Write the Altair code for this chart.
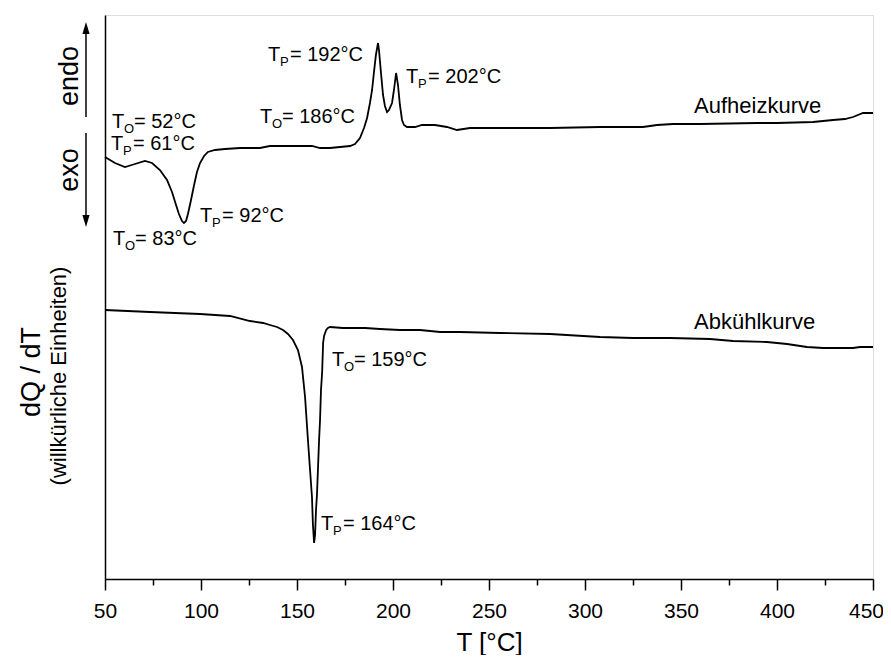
import altair as alt
import pandas as pd

FONT = "Liberation Sans, Arial, Helvetica, sans-serif"

# ---- curve data (T in °C, dQ/dT in arbitrary units) ----
heat_T = [50, 55.2, 60.4, 65.6, 70.8, 74.5, 78.6, 82.3, 84.9, 87.0, 88.5, 90.1, 91.1, 92.2,
          93.2, 94.8, 96.4, 97.9, 99.5, 101.6, 103.6, 107.3, 112.5, 120.3, 130.7, 135.9,
          143.8, 151.6, 157.8, 162.0, 167.2, 172.4, 177.6, 180.2, 182.8, 184.9, 186.5,
          188.0, 189.1, 190.1, 191.1, 192.2, 192.7, 193.7, 194.8, 195.8, 196.9, 197.9,
          199.5, 200.5, 201.6, 202.6, 203.6, 204.7, 205.7, 207.3, 211.5, 215.1, 221.9,
          228.1, 233.3, 240.1, 255.7, 281.8, 307.8, 330.2, 337.5, 345.8, 359.9, 389.6,
          400.0, 418.8, 429.2, 435.4, 439.6, 444.8, 450]
heat_Q = [422, 416, 412, 415, 418, 416, 409, 399, 387, 374, 365, 358, 356, 358,
          365, 379, 394, 407, 416, 423, 427, 429, 430, 431, 431, 433,
          433, 433, 433, 431, 431, 432, 433, 435, 441, 451, 461,
          476, 489, 507, 524, 536, 529, 507, 484, 473, 467, 469,
          476, 489, 506, 494, 474, 459, 454, 452, 452, 454, 454,
          452, 449, 451, 451, 451, 452, 452, 454, 455, 455, 456,
          456, 457, 459, 460, 462, 466, 466]

cool_T = [50, 73.4, 99.5, 115.1, 125.5, 132.3, 135.9, 139.6, 142.7, 145.3, 147.9, 150.5,
          152.6, 154.2, 155.7, 156.8, 157.8, 158.3, 158.9, 159.4, 159.9, 160.4, 161.5,
          162.0, 162.5, 163.1, 163.6, 164.1, 165.2, 166.1, 167.2, 173.9, 185.4, 193.2,
          203.6, 214.1, 224.5, 234.9, 255.7, 281.8, 307.8, 325.0, 344.3, 365.1, 377.1,
          394.8, 405.2, 415.6, 424.0, 439.6, 443.2, 450]
cool_Q = [269, 267, 265, 263, 258, 256, 254, 252, 249, 245, 239, 229,
          212, 182, 139, 109, 82, 54, 36, 44, 69, 84, 139,
          159, 189, 207, 236, 243, 249, 251, 252, 251, 251, 250,
          249, 249, 247, 247, 246, 245, 242, 241, 241, 240, 238,
          237, 235, 232, 231, 231, 232, 232]

# ---- annotations ----
ann_T = [53.6, 53.1, 99.5, 54.2, 134.9, 206.8, 130.7, 168.2, 162.5]
ann_Q = [451, 429, 357, 334, 518, 496, 456, 213, 49]
ann_sub = ["O", "P", "P", "O", "P", "P", "O", "O", "P"]
ann_rest = ["= 52°C", "= 61°C", "= 92°C", "= 83°C", "= 192°C", "= 202°C",
            "= 186°C", "= 159°C", "= 164°C"]

curve_names = ["Aufheizkurve", "Abkühlkurve"]
curve_lab_T = [356.8, 356.8]
curve_lab_Q = [466, 250]

side_words = ["endo", "exo"]
side_T = [35.9, 35.9]
side_Q = [503, 409]

arrow_T = [40.1, 40.1]
arrow_Q1 = [551, 446]
arrow_Q2 = [462, 358]
head_Q = [551, 358]
head_dir = ["up", "down"]

ytitle_lines = ["dQ / dT", "(willkürliche Einheiten)"]
ytitle_T = [16.1, 29.7]
ytitle_Q = [207, 203]
ytitle_size = [27, 22]

x_ticks = list(range(50, 451, 25))

W, H = 768, 564
XD = [50, 450]
YD = [0, 564]

x_axis = alt.Axis(
    values=x_ticks,
    labelExpr="datum.value % 50 === 0 ? datum.label : ''",
    tickSize={"condition": {"test": "datum.value % 50 === 0", "value": 11}, "value": 6},
    labelOffset={"condition": {"test": "datum.value === 450", "value": -7}, "value": 0},
    tickWidth=1.5, tickColor="black", domainColor="black", domainWidth=1.5,
    labelFont=FONT, labelFontSize=21, labelColor="black", labelPadding=10,
    labelOverlap=False, labelFlush=False, labelBound=False, grid=False,
    title="T [°C]", titleFont=FONT, titleFontSize=26, titleFontWeight="normal",
    titleColor="black", titleX=W / 2, titleY=71, titleBaseline="alphabetic",
    titleAlign="center",
)
y_axis = alt.Axis(title=None, labels=False, ticks=False, grid=False,
                  domainColor="black", domainWidth=1.5)


def X(field="T"):
    return alt.X(f"{field}:Q", scale=alt.Scale(domain=XD, nice=False, zero=False), axis=x_axis)


def Y(field="Q"):
    return alt.Y(f"{field}:Q", scale=alt.Scale(domain=YD, nice=False, zero=False), axis=y_axis)


curves = pd.concat([
    pd.DataFrame({"T": heat_T, "Q": heat_Q, "kurve": "heat"}),
    pd.DataFrame({"T": cool_T, "Q": cool_Q, "kurve": "cool"}),
])

lines = alt.Chart(curves).mark_line(color="black", strokeWidth=1.8).encode(
    x=X(), y=Y(), detail="kurve:N"
)

ann = pd.DataFrame({"T": ann_T, "Q": ann_Q, "sub": ann_sub, "rest": ann_rest})
t_main = alt.Chart(ann).mark_text(
    align="left", baseline="alphabetic", font=FONT, fontSize=20, color="black"
).encode(x=X(), y=Y(), text=alt.value("T"))
t_sub = alt.Chart(ann).mark_text(
    align="left", baseline="alphabetic", font=FONT, fontSize=13, color="black", dx=12, dy=5
).encode(x=X(), y=Y(), text="sub:N")
t_rest = alt.Chart(ann).mark_text(
    align="left", baseline="alphabetic", font=FONT, fontSize=20, color="black", dx=22
).encode(x=X(), y=Y(), text="rest:N")

cl = pd.DataFrame({"T": curve_lab_T, "Q": curve_lab_Q, "name": curve_names})
curve_text = alt.Chart(cl).mark_text(
    align="left", baseline="alphabetic", font=FONT, fontSize=22, color="black"
).encode(x=X(), y=Y(), text="name:N")

sw = pd.DataFrame({"T": side_T, "Q": side_Q, "w": side_words})
side_text = alt.Chart(sw).mark_text(
    align="center", baseline="alphabetic", font=FONT, fontSize=27, color="black", angle=270
).encode(x=X(), y=Y(), text="w:N")

ar = pd.DataFrame({"T": arrow_T, "Q": arrow_Q1, "Q2": arrow_Q2})
arrow_lines = alt.Chart(ar).mark_rule(color="black", strokeWidth=1.5).encode(
    x=X(), y=Y(), y2="Q2:Q"
)
hd = pd.DataFrame({"T": arrow_T, "Q": head_Q, "dir": head_dir})
head_up = alt.Chart(hd).transform_filter("datum.dir === 'up'").mark_point(
    shape="M0,-1L0.6,1L-0.6,1Z", size=144, filled=True, color="black", opacity=1
).encode(x=X(), y=Y())
head_down = alt.Chart(hd).transform_filter("datum.dir === 'down'").mark_point(
    shape="M0,1L0.6,-1L-0.6,-1Z", size=144, filled=True, color="black", opacity=1
).encode(x=X(), y=Y())

yt = pd.DataFrame({"T": ytitle_T, "Q": ytitle_Q, "line": ytitle_lines, "size": ytitle_size})
ytitle_big = alt.Chart(yt).transform_filter("datum.size > 25").mark_text(
    align="center", baseline="alphabetic", font=FONT, fontSize=27, color="black", angle=270
).encode(x=X(), y=Y(), text="line:N")
ytitle_small = alt.Chart(yt).transform_filter("datum.size <= 25").mark_text(
    align="center", baseline="alphabetic", font=FONT, fontSize=22, color="black", angle=270
).encode(x=X(), y=Y(), text="line:N")

chart = alt.layer(
    lines, t_main, t_sub, t_rest, curve_text, side_text, arrow_lines, head_up, head_down,
    ytitle_big, ytitle_small
).properties(
    width=W, height=H,
    autosize=alt.AutoSizeParams(type="none"),
    padding={"left": 97, "top": 7, "right": 10, "bottom": 76},
).configure_view(strokeWidth=0).configure(background="white")

chart.save("out.html", embed_options={"renderer": "svg", "actions": False})
